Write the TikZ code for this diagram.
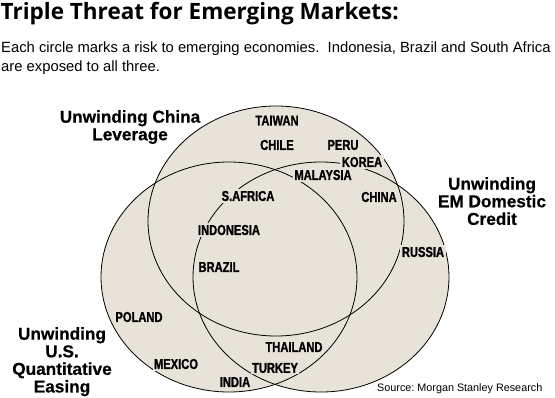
\documentclass[tikz,border=0pt]{standalone}
\usepackage{fontspec}
\setmainfont{Liberation Sans}
\newfontfamily\titlefont{Open Sans}
\newfontfamily\condfont[FakeStretch=0.78,FakeBold=1.2]{Liberation Sans}
\newfontfamily\riskfont[FakeBold=0.6]{Liberation Sans}
\definecolor{venn}{RGB}{231,227,217}
\frenchspacing
\begin{document}
\begin{tikzpicture}[x=1pt,y=-1pt,
  country/.style={font=\condfont\bfseries\fontsize{14.3}{14.3}\selectfont, fill=venn, inner sep=1.5pt},
  risk/.style={font=\riskfont\bfseries\fontsize{17.2}{17.6}\selectfont, align=center, inner sep=0pt, anchor=north},
  ring/.style={draw=black, line width=0.8pt}]
\useasboundingbox (0,0) rectangle (555,397);
% filled union
\fill[venn] (276,221) ellipse [x radius=128pt, y radius=115pt];
\fill[venn] (321,277) ellipse [x radius=128pt, y radius=115pt];
\fill[venn] (229,277) ellipse [x radius=128pt, y radius=115pt];
% outlines
\draw[ring] (276,221) ellipse [x radius=128pt, y radius=115pt];
\draw[ring] (321,277) ellipse [x radius=128pt, y radius=115pt];
\draw[ring] (229,277) ellipse [x radius=128pt, y radius=115pt];
% title and subtitle
\node (title) [anchor=base west, inner sep=0pt, font=\titlefont\bfseries\fontsize{22.5}{22.5}\selectfont] at (0.5,19.5) {Triple Threat for Emerging Markets:};
\node (sub) [anchor=north west, inner sep=0pt, align=left, font=\fontsize{14.8}{18.5}\selectfont] at (1,42) {Each circle marks a risk to emerging economies.\ \ Indonesia, Brazil and South Africa\\are exposed to all three.};
% risk labels
\node (china) [risk] at (130,110) {Unwinding China\\Leverage};
\node (em) [risk] at (492,177) {Unwinding\\EM Domestic\\Credit};
\node (qe) [risk] at (62,327) {Unwinding\\U.S.\\Quantitative\\Easing};
% countries
\node (taiwan) [country] at (277,120.5) {TAIWAN};
\node (chile) [country] at (277,145) {CHILE};
\node (peru) [country] at (343,145) {PERU};
\node (korea) [country] at (362,162) {KOREA};
\node (malaysia) [country] at (323,175) {MALAYSIA};
\node (safrica) [country] at (248,196) {S.AFRICA};
\node (chinac) [country] at (379,197) {CHINA};
\node (indonesia) [country] at (229,230) {INDONESIA};
\node (brazil) [country] at (219,267) {BRAZIL};
\node (russia) [country] at (423,252) {RUSSIA};
\node (poland) [country] at (139,317) {POLAND};
\node (thailand) [country] at (294,347) {THAILAND};
\node (mexico) [country] at (176,364) {MEXICO};
\node (turkey) [country] at (275,368) {TURKEY};
\node (india) [country] at (235,382) {INDIA};
% source
\node (source) [anchor=base west, inner sep=0pt, font=\fontsize{10.8}{12}\selectfont] at (377,391) {Source: Morgan Stanley Research};
\end{tikzpicture}
\end{document}
